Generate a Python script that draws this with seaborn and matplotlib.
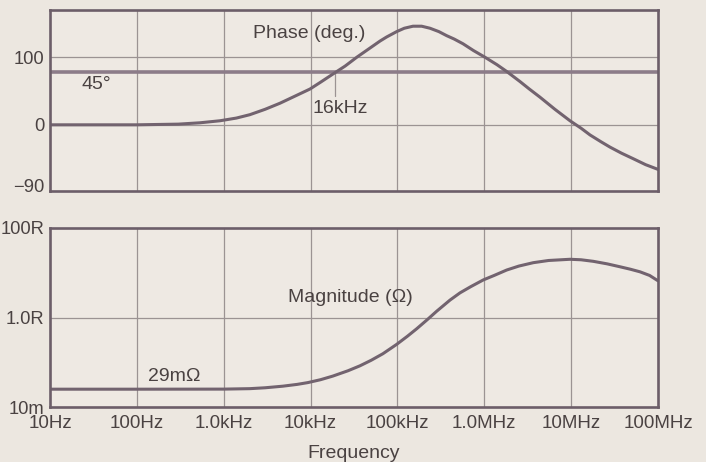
import matplotlib
matplotlib.use("Agg")
import matplotlib.pyplot as plt
import seaborn as sns
import pandas as pd

# ---- data ----
phase_freq_hz = [10, 100, 300, 533, 906, 1400, 2000, 3000, 4450, 6500, 9850, 13000,
                 18000, 25000, 34000, 50000, 63000, 75000, 98000, 120000, 151000,
                 190000, 237000, 300000, 369000, 450000, 569000, 750000, 1.02e6,
                 1.4e6, 1.81e6, 2.58e6, 3.3e6, 4.37e6, 6.5e6, 9.7e6, 13e6, 16.5e6,
                 22e6, 28e6, 38e6, 51.5e6, 72e6, 1e8]
phase_deg = [0, 0, 1, 3, 6, 10, 15, 23, 32, 42, 53, 63,
             75, 87, 100, 115, 124, 130, 138, 143, 146,
             146, 143, 138, 132, 127, 120, 110, 100,
             89, 79, 64, 53, 41, 23, 6, -5, -15,
             -25, -33, -42, -50, -59, -66]

mag_freq_hz = [10, 100, 1000, 2000, 3000, 4800, 7000, 9300, 13000, 18000, 27000,
               37000, 50000, 68000, 98000, 130000, 167000, 220000, 283000, 403000,
               525000, 700000, 975000, 1.3e6, 1.81e6, 2.5e6, 3.67e6, 5.5e6, 9.7e6,
               13e6, 18e6, 26e6, 36.5e6, 48e6, 62e6, 80e6, 1e8]
mag_ohm = [0.025, 0.025, 0.0251, 0.0257, 0.0269, 0.0292, 0.032, 0.0351, 0.0407, 0.049, 0.0646,
           0.0832, 0.111, 0.155, 0.251, 0.38, 0.562, 0.891, 1.38, 2.45,
           3.55, 4.9, 6.92, 8.71, 11.5, 14.1, 16.8, 18.8, 20.0,
           19.5, 18.0, 15.8, 13.6, 12.0, 10.5, 8.71, 6.61]

x_ticks = [10, 100, 1e3, 1e4, 1e5, 1e6, 1e7, 1e8]
x_labels = ["10Hz", "100Hz", "1.0kHz", "10kHz", "100kHz", "1.0MHz", "10MHz", "100MHz"]
phase_ticks = [-90, 0, 100]
phase_labels = ["\u221290", "0", "100"]
mag_ticks = [0.01, 1.0, 100]
mag_labels = ["10m", "1.0R", "100R"]

ref_line_deg = 78          # horizontal line labelled 45°
marker_freq_hz = 19000     # short marker below the 16kHz crossing
marker_span_deg = [43, 78]

# ---- style ----
sns.set_theme(style="white")
plt.rcParams["font.family"] = ["Liberation Sans", "DejaVu Sans"]
BG = "#ece7e0"
AX_BG = "#eee9e3"
FRAME = "#6c5e69"
CURVE = "#72636f"
GRID = "#9b9393"
TEXT = "#4a4242"

fig = plt.figure(figsize=(7.06, 4.62), dpi=100, facecolor=BG)
ax1 = fig.add_axes([50 / 706, 1 - 191 / 462, 608 / 706, 181 / 462], facecolor=AX_BG)
ax2 = fig.add_axes([50 / 706, 1 - 407 / 462, 608 / 706, 179 / 462], facecolor=AX_BG)

df_phase = pd.DataFrame({"f": phase_freq_hz, "v": phase_deg})
df_mag = pd.DataFrame({"f": mag_freq_hz, "v": mag_ohm})

for ax in (ax1, ax2):
    ax.set_xscale("log")
    ax.set_xlim(10, 1e8)
    ax.set_xticks(x_ticks)
    ax.minorticks_off()
    for x in x_ticks[1:-1]:
        ax.axvline(x, color=GRID, lw=0.9, zorder=1)
    for s in ax.spines.values():
        s.set_color(FRAME)
        s.set_linewidth(1.9)
        s.set_zorder(5)
    ax.tick_params(axis="y", length=0, labelsize=13.2, labelcolor=TEXT, pad=4)
    ax.tick_params(axis="x", length=0, labelsize=13.5, labelcolor=TEXT, pad=6)

# top: phase
ax1.set_ylim(-98, 170)
ax1.set_yticks(phase_ticks)
ax1.set_yticklabels(phase_labels)
ax1.set_xticklabels([])
for y in phase_ticks[1:]:
    ax1.axhline(y, color=GRID, lw=0.9, zorder=1)
ax1.axhline(ref_line_deg, color="#8c7c89", lw=2.6, zorder=2)
ax1.plot([marker_freq_hz, marker_freq_hz], marker_span_deg, color=GRID, lw=0.9, zorder=1)
sns.lineplot(data=df_phase, x="f", y="v", ax=ax1, color=CURVE, lw=2.2, zorder=3)
ax1.set_xlabel("")
ax1.set_ylabel("")
ax1.text(9.6e3, 135, "Phase (deg.)", ha="center", va="center", fontsize=14, color=TEXT)
ax1.text(23, 59, "45\u00b0", ha="left", va="center", fontsize=14, color=TEXT)
ax1.text(2.2e4, 24, "16kHz", ha="center", va="center", fontsize=14, color=TEXT)

# bottom: magnitude
ax2.set_yscale("log")
ax2.set_ylim(0.01, 100)
ax2.set_yticks(mag_ticks)
ax2.set_yticklabels(mag_labels)
ax2.minorticks_off()
ax2.axhline(1.0, color=GRID, lw=0.9, zorder=1)
sns.lineplot(data=df_mag, x="f", y="v", ax=ax2, color=CURVE, lw=2.2, zorder=3)
ax2.set_xticklabels(x_labels)
ax2.set_ylabel("")
ax2.set_xlabel("Frequency", fontsize=14, color=TEXT, labelpad=9)
ax2.text(270, 0.047, "29m\u03a9", ha="center", va="center", fontsize=14, color=TEXT)
ax2.text(2.85e4, 2.73, "Magnitude (\u03a9)", ha="center", va="center", fontsize=14, color=TEXT)

fig.savefig("out.png", dpi=100, facecolor=BG)
